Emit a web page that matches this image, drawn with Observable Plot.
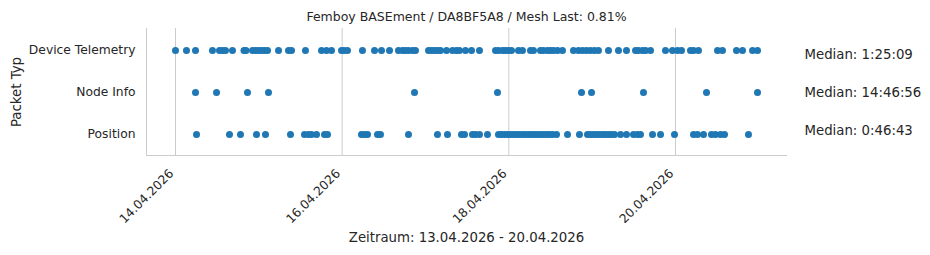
<!DOCTYPE html>
<html>
<head>
<meta charset="utf-8">
<script src="https://cdn.jsdelivr.net/npm/d3@7"></script>
<script src="https://cdn.jsdelivr.net/npm/@observablehq/plot@0.6"></script>
<style>
  html, body { margin: 0; padding: 0; background: #fff; }
  #chart { width: 930px; height: 255px; }
</style>
</head>
<body>
<div id="chart"></div>
<script>
// ---- data (April 2026, day + UTC time) ----
const categories = ["Device Telemetry", "Node Info", "Position"];
const medianLabels = ["Median: 1:25:09", "Median: 14:46:56", "Median: 0:46:43"];
const tickDates = ["2026-04-14", "2026-04-16", "2026-04-18", "2026-04-20"];
const xDomain = ["2026-04-13T15:39Z", "2026-04-21T07:58Z"];
const titleText = "Femboy BASEment / DA8BF5A8 / Mesh Last: 0.81%";
const xLabel = "Zeitraum: 13.04.2026 - 20.04.2026";
const yLabel = "Packet Typ";

const telemetryTimes = [
  "14 00:00","14 03:10","14 05:46","14 10:39","14 12:40","14 13:32","14 14:24","14 16:25",
  "14 19:44","14 20:18","14 22:11","14 23:02","14 23:54","15 00:46","15 01:38","15 02:30",
  "15 05:40","15 08:33","15 09:25","15 13:26","15 18:03","15 19:29","15 20:56","15 23:49",
  "16 00:32","16 01:32","16 05:51","16 09:19","16 11:20","16 13:38","16 16:13","16 17:23",
  "16 18:14","16 19:06","16 20:15","16 21:07","17 00:52","17 01:44","17 02:35","17 03:27",
  "17 04:19","17 06:03","17 07:47","17 08:56","17 09:47","17 11:31","17 13:15","17 15:33",
  "17 20:10","17 21:01","17 22:11","17 23:02","17 23:54","18 00:46","18 02:47","18 03:56",
  "18 06:14","18 07:06","18 09:07","18 09:59","18 11:08","18 12:00","18 12:52","18 14:01",
  "18 15:27","18 18:37","18 20:04","18 21:13","18 22:22","18 23:31","19 00:40","19 01:49",
  "19 04:42","19 07:35","19 09:53","19 12:29","19 13:20","19 14:30","19 15:22","19 16:48",
  "19 21:07","19 23:08","20 00:35","20 01:44","20 04:19","20 05:11","20 06:37","20 12:06",
  "20 13:32","20 17:34","20 19:18","20 22:11","20 23:37"
];
const nodeInfoTimes = [
  "14 05:46","14 11:49","14 20:44","15 02:47","16 20:50","17 20:44","18 20:56","18 23:49",
  "19 14:47","20 08:56","20 23:37"
];
const positionTimes = [
  "14 06:03","14 15:33","14 18:43","14 23:20","15 01:55","15 09:07","15 13:09","15 14:18",
  "15 15:10","15 16:37","15 18:55","15 19:47","16 05:34","16 06:26","16 07:18","16 10:11",
  "16 11:02","16 19:06","17 03:27","17 06:20","17 10:22","17 11:14","17 13:32","17 14:24",
  "17 15:33","17 17:51","17 21:01","17 21:53","17 22:45","17 23:37","18 00:29","18 01:21",
  "18 02:12","18 03:04","18 03:56","18 04:48","18 05:40","18 06:32","18 07:23","18 08:15",
  "18 09:07","18 09:59","18 10:51","18 11:43","18 12:35","18 13:44","18 16:54","18 20:21",
  "18 22:39","18 23:31","19 00:23","19 01:15","19 02:07","19 02:59","19 03:50","19 04:42",
  "19 05:34","19 06:26","19 08:10","19 09:53","19 11:54","19 13:03","19 13:55","19 17:23",
  "19 19:41","19 23:43","20 05:11","20 06:20","20 08:04","20 10:22","20 11:31","20 12:58",
  "20 14:07","20 21:01"
];

// ---- build table ----
const toDate = s => { const [d, t] = s.split(" "); return new Date(`2026-04-${d}T${t}:00Z`); };
const series = [telemetryTimes, nodeInfoTimes, positionTimes];
const points = series.flatMap((arr, i) => arr.map(s => ({ t: toDate(s), type: categories[i] })));
const ticks = tickDates.map(d => new Date(d + "T00:00Z"));
const medianRows = categories.map((c, i) => ({ type: c, label: medianLabels[i] }));

const textColor = "#262626";
const lineColor = "#cccccc";
const dotColor = "#1f77b4";

const chart = Plot.plot({
  width: 930,
  height: 255,
  marginLeft: 146,
  marginRight: 144,
  marginTop: 28,
  marginBottom: 100,
  style: { fontFamily: "DejaVu Sans", fontSize: "12px", color: textColor, background: "#fff", overflow: "visible" },
  x: { type: "utc", domain: xDomain.map(d => new Date(d)) },
  y: { type: "point", domain: categories, padding: 0.5 },
  marks: [
    Plot.gridX(ticks, { stroke: lineColor, strokeOpacity: 1, strokeWidth: 1 }),
    Plot.frame({ anchor: "left", stroke: lineColor, strokeOpacity: 1 }),
    Plot.frame({ anchor: "bottom", stroke: lineColor, strokeOpacity: 1 }),
    Plot.axisX(ticks, {
      tickRotate: -45, tickSize: 0, tickPadding: 16, dx: -4,
      tickFormat: d3.utcFormat("%d.%m.%Y"), label: null, fill: textColor, fontSize: 12.3
    }),
    Plot.axisY({ tickSize: 0, tickPadding: 11, label: null, fill: textColor, fontSize: 12.3 }),
    Plot.dot(points, { x: "t", y: "type", r: 3.5, fill: dotColor }),
    Plot.text(medianRows.slice(0, 1), { y: "type", text: "label", frameAnchor: "right", dx: 18, dy: 4, textAnchor: "start", fill: textColor, fontSize: 13.3 }),
    Plot.text(medianRows.slice(1, 2), { y: "type", text: "label", frameAnchor: "right", dx: 18, dy: 0, textAnchor: "start", fill: textColor, fontSize: 13.3 }),
    Plot.text(medianRows.slice(2, 3), { y: "type", text: "label", frameAnchor: "right", dx: 18, dy: -4, textAnchor: "start", fill: textColor, fontSize: 13.3 }),
    Plot.text([titleText], { frameAnchor: "top", dy: -16, fill: textColor, fontSize: 12.5 }),
    Plot.text([xLabel], { frameAnchor: "bottom", dy: 86, fill: textColor, fontSize: 13.3 }),
    Plot.text([yLabel], { frameAnchor: "left", textAnchor: "middle", dx: -130, rotate: -90, fill: textColor, fontSize: 13.3 })
  ]
});
document.getElementById("chart").appendChild(chart);
</script>
</body>
</html>
